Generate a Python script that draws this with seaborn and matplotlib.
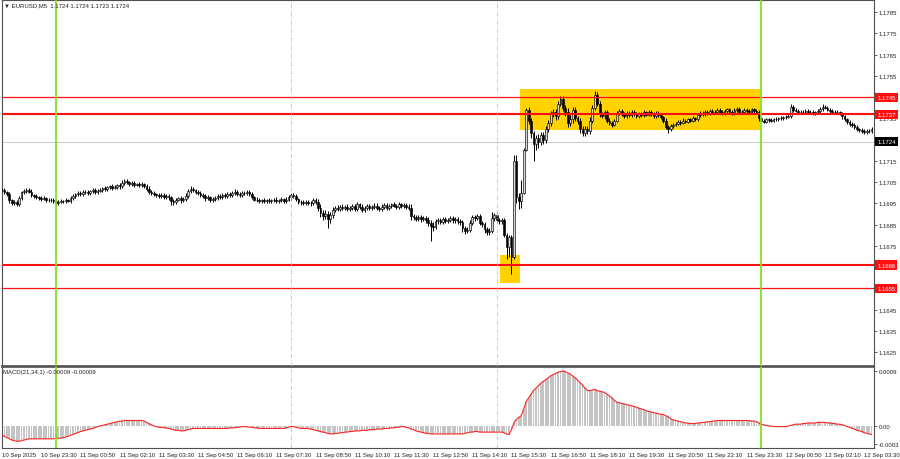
import numpy as np
import matplotlib
matplotlib.use("Agg")
import matplotlib.pyplot as plt
import seaborn as sns
from matplotlib.patches import Rectangle

sns.set_style("white")
plt.rcParams['font.family'] = ['Liberation Sans', 'DejaVu Sans']

# EURUSD M5, prices stored as points above 1.16000 (1 point = 0.00001)
base_price = 1.16
first_open = 1010
close_pts = [
    1012, 1003, 992, 965, 952, 958, 948, 975, 1002, 1010,
    1015, 1006, 990, 984, 980, 976, 972, 975, 968, 965,
    967, 960, 950, 958, 962, 960, 966, 963, 975, 985,
    992, 1000, 995, 1005, 1002, 998, 1008, 1012, 1005, 1010,
    1015, 1022, 1018, 1025, 1030, 1024, 1028, 1035, 1030, 1045,
    1055, 1050, 1042, 1045, 1038, 1040, 1036, 1040, 1032, 1020,
    1005, 998, 992, 990, 985, 990, 982, 986, 978, 960,
    955, 968, 975, 965, 972, 985, 1010, 1020, 1012, 1005,
    998, 990, 985, 975, 978, 965, 970, 975, 985, 980,
    990, 985, 995, 990, 998, 1005, 995, 990, 998, 1000,
    1005, 995, 980, 968, 965, 962, 965, 963, 966, 962,
    965, 968, 962, 966, 970, 963, 968, 978, 990, 985,
    970, 958, 955, 952, 958, 954, 950, 965, 955, 930,
    905, 890, 900, 875, 895, 920, 930, 925, 935, 928,
    935, 925, 930, 938, 925, 945, 935, 920, 930, 938,
    928, 935, 940, 930, 925, 935, 942, 930, 938, 945,
    940, 935, 945, 938, 942, 935, 930, 890, 885, 878,
    885, 875, 880, 872, 860, 845, 840, 865, 870, 862,
    875, 868, 872, 880, 870, 875, 866, 862, 835, 822,
    825, 860, 885, 880, 890, 860, 852, 830, 815, 822,
    880, 895, 870, 865, 872, 800, 745, 790, 700, 1150,
    980, 960, 1000, 1200, 1390, 1340, 1280, 1230, 1260, 1240,
    1270, 1250, 1300, 1330, 1370, 1380, 1360, 1420, 1440, 1400,
    1380, 1330, 1345, 1390, 1350, 1340, 1300, 1280, 1300, 1290,
    1340, 1400, 1460, 1420, 1370, 1360, 1380, 1340, 1330, 1320,
    1340, 1375, 1385, 1370, 1360, 1375, 1365, 1380, 1370, 1360,
    1372, 1365, 1378, 1368, 1380, 1370, 1362, 1375, 1365, 1355,
    1340, 1310, 1300, 1315, 1320, 1325, 1335, 1330, 1340, 1335,
    1345, 1340, 1350, 1348, 1365, 1375, 1370, 1380, 1372, 1385,
    1378, 1382, 1390, 1380, 1375, 1385, 1392, 1380, 1375, 1388,
    1395, 1382, 1378, 1390, 1385, 1380, 1392, 1385, 1378, 1350,
    1340, 1335, 1345, 1342, 1340, 1345, 1348, 1350, 1352, 1355,
    1358, 1362, 1405, 1390, 1385, 1380, 1382, 1378, 1385, 1380,
    1382, 1375, 1380, 1385, 1395, 1405, 1400, 1390, 1385, 1380,
    1382, 1378, 1372, 1360, 1345, 1335, 1325, 1320, 1310, 1300,
    1295, 1290, 1285, 1292, 1290, 1300,
]
# wick length above / below the body, in points
wick_up = [
    9, 10, 7, 12, 8, 7, 10, 11, 8, 10,
    7, 9, 10, 6, 9, 7, 10, 9, 6, 8,
    9, 7, 12, 9, 7, 6, 9, 7, 10, 9,
    7, 10, 9, 7, 9, 10, 7, 9, 10, 7,
    9, 7, 10, 9, 7, 10, 9, 7, 9, 14,
    10, 9, 7, 10, 9, 7, 9, 10, 7, 9,
    10, 7, 9, 7, 10, 9, 7, 9, 10, 9,
    10, 9, 7, 10, 9, 12, 10, 11, 9, 7,
    9, 10, 7, 9, 10, 7, 9, 10, 7, 9,
    10, 9, 7, 10, 9, 11, 7, 9, 10, 9,
    10, 7, 9, 7, 10, 9, 7, 9, 7, 10,
    7, 9, 10, 7, 9, 7, 10, 12, 10, 9,
    9, 7, 10, 9, 7, 10, 9, 12, 9, 14,
    16, 14, 19, 16, 14, 12, 10, 11, 9, 10,
    9, 12, 10, 9, 11, 10, 9, 12, 10, 9,
    11, 9, 10, 12, 9, 10, 11, 9, 10, 9,
    10, 9, 11, 9, 10, 12, 14, 16, 10, 12,
    10, 12, 9, 10, 12, 14, 16, 12, 10, 11,
    10, 9, 11, 10, 9, 12, 10, 9, 11, 10,
    12, 14, 10, 11, 12, 10, 9, 11, 10, 12,
    30, 12, 14, 12, 11, 10, 10, 10, 10, 30,
    30, 20, 60, 10, 10, 15, 10, 12, 10, 15,
    14, 17, 12, 14, 17, 12, 14, 14, 14, 17,
    14, 17, 20, 12, 14, 12, 10, 12, 14, 12,
    15, 14, 17, 12, 10, 12, 10, 9, 10, 9,
    9, 11, 8, 9, 10, 8, 9, 11, 8, 9,
    8, 9, 10, 8, 9, 8, 10, 9, 8, 9,
    8, 11, 9, 10, 8, 9, 8, 9, 10, 8,
    9, 8, 9, 8, 10, 9, 8, 10, 9, 8,
    9, 8, 9, 8, 9, 10, 8, 9, 8, 9,
    8, 9, 8, 10, 8, 9, 8, 9, 8, 11,
    8, 7, 9, 7, 8, 7, 8, 7, 9, 8,
    8, 9, 13, 8, 9, 7, 8, 9, 8, 7,
    8, 9, 7, 8, 9, 11, 9, 8, 7, 9,
    7, 8, 7, 9, 8, 7, 9, 8, 7, 8,
    7, 9, 8, 7, 9, 8,
]
wick_dn = [
    8, 10, 9, 12, 11, 9, 12, 10, 8, 9,
    9, 8, 10, 9, 8, 10, 9, 8, 10, 9,
    8, 10, 13, 9, 8, 10, 9, 8, 9, 10,
    9, 8, 10, 9, 8, 9, 10, 8, 9, 10,
    8, 9, 10, 8, 9, 10, 8, 9, 10, 9,
    9, 10, 8, 9, 10, 8, 9, 10, 9, 10,
    9, 10, 8, 9, 10, 8, 10, 9, 10, 18,
    12, 10, 9, 11, 10, 9, 10, 9, 8, 10,
    10, 9, 11, 12, 9, 10, 9, 8, 10, 9,
    9, 10, 8, 9, 10, 9, 8, 10, 9, 8,
    9, 10, 11, 9, 10, 8, 9, 10, 9, 8,
    9, 8, 10, 9, 8, 10, 9, 8, 10, 9,
    10, 9, 11, 10, 9, 10, 11, 9, 10, 16,
    19, 16, 14, 40, 16, 12, 10, 11, 9, 10,
    10, 9, 11, 10, 12, 9, 10, 11, 12, 9,
    10, 11, 9, 10, 12, 9, 10, 11, 9, 10,
    9, 10, 9, 11, 10, 12, 10, 18, 12, 10,
    11, 12, 10, 12, 14, 70, 18, 12, 11, 10,
    10, 11, 9, 10, 12, 10, 11, 12, 18, 14,
    12, 10, 11, 12, 10, 12, 14, 18, 16, 12,
    12, 14, 12, 11, 12, 10, 55, 45, 81, 10,
    30, 35, 30, 5, 5, 15, 20, 80, 30, 30,
    17, 20, 14, 12, 17, 12, 17, 12, 14, 17,
    17, 20, 14, 17, 12, 17, 17, 15, 12, 14,
    12, 14, 12, 14, 12, 10, 12, 10, 9, 10,
    8, 9, 8, 10, 8, 9, 8, 8, 10, 8,
    8, 8, 9, 8, 8, 9, 8, 8, 8, 9,
    10, 12, 17, 10, 9, 8, 8, 9, 8, 8,
    8, 8, 9, 8, 8, 8, 9, 8, 8, 8,
    8, 8, 8, 9, 8, 8, 8, 8, 9, 8,
    8, 8, 8, 8, 9, 8, 8, 8, 9, 12,
    9, 8, 7, 9, 8, 7, 8, 9, 7, 8,
    8, 7, 9, 8, 7, 9, 8, 7, 8, 9,
    7, 8, 9, 7, 8, 9, 8, 7, 9, 8,
    8, 9, 8, 11, 9, 10, 9, 11, 9, 10,
    9, 8, 10, 9, 8, 9,
]
# MACD(21,34,1) main value in units of 0.00001
macd_vals = [
    -15, -17, -19, -21, -23, -24, -25, -25, -24, -23,
    -22, -21, -21, -21, -21, -21, -21, -21, -21, -21,
    -21, -21, -20, -20, -20, -19, -18, -17, -15, -14,
    -12, -11, -9, -8, -7, -6, -5, -4, -3, -1,
    0, 1, 2, 3, 4, 5, 6, 7, 8, 8,
    9, 9, 9, 9, 9, 9, 9, 9, 8, 6,
    4, 2, 0, -1, -2, -2, -3, -3, -4, -5,
    -6, -7, -7, -8, -8, -7, -6, -5, -4, -4,
    -4, -4, -4, -4, -4, -4, -4, -4, -4, -4,
    -4, -4, -4, -3, -3, -3, -2, -2, -1, -1,
    -1, -2, -2, -3, -3, -4, -4, -4, -4, -4,
    -4, -4, -4, -4, -4, -4, -3, -2, -1, -1,
    -2, -3, -4, -4, -4, -4, -5, -6, -7, -8,
    -9, -10, -11, -12, -13, -13, -12, -12, -11, -11,
    -10, -10, -9, -9, -8, -8, -8, -7, -7, -7,
    -6, -6, -6, -5, -5, -5, -4, -4, -4, -3,
    -3, -2, -2, -1, -1, -2, -3, -5, -6, -8,
    -9, -10, -11, -12, -12, -13, -13, -13, -13, -13,
    -13, -13, -13, -13, -13, -13, -13, -13, -13, -12,
    -11, -10, -10, -9, -9, -10, -10, -10, -10, -10,
    -10, -10, -10, -10, -10, -11, -13, -14, -6, 5,
    11, 14, 17, 28, 40, 46, 52, 58, 62, 66,
    70, 73, 76, 79, 82, 84, 86, 88, 89, 90,
    89, 87, 85, 82, 79, 75, 71, 67, 62, 58,
    58, 59, 60, 58, 57, 56, 55, 52, 49, 46,
    42, 39, 38, 37, 36, 35, 34, 33, 32, 31,
    29, 28, 27, 25, 24, 23, 22, 21, 20, 19,
    19, 17, 15, 12, 10, 9, 8, 7, 6, 5,
    5, 4, 4, 4, 5, 5, 6, 6, 7, 7,
    8, 8, 9, 9, 9, 9, 9, 9, 9, 9,
    9, 9, 9, 9, 9, 9, 8, 8, 7, 5,
    3, 2, 1, 0, 0, -1, -1, -1, -1, -1,
    -1, 0, 1, 2, 3, 3, 3, 4, 4, 5,
    5, 5, 5, 6, 6, 6, 6, 5, 5, 4,
    4, 3, 3, 2, 1, -1, -2, -4, -5, -7,
    -8, -9, -11, -12, -13, -14,
]

time_labels = [
    "10 Sep 2025", "10 Sep 23:30", "11 Sep 00:50", "11 Sep 02:10", "11 Sep 03:30",
    "11 Sep 04:50", "11 Sep 06:10", "11 Sep 07:30", "11 Sep 08:50", "11 Sep 10:10",
    "11 Sep 11:30", "11 Sep 12:50", "11 Sep 14:10", "11 Sep 15:30", "11 Sep 16:50",
    "11 Sep 18:10", "11 Sep 19:30", "11 Sep 20:50", "11 Sep 22:10", "11 Sep 23:30",
    "12 Sep 00:50", "12 Sep 02:10", "12 Sep 03:30",
]
bars_per_label = 16

price_ticks = [1.1625, 1.1635, 1.1645, 1.1655, 1.1665, 1.1675, 1.1685, 1.1695,
               1.1705, 1.1715, 1.1725, 1.1735, 1.1745, 1.1755, 1.1765, 1.1775, 1.1785]
hidden_ticks = [1.1655, 1.1665, 1.1725, 1.1745]   # fully covered by price tags

levels = [1.1745, 1.1737, 1.1666, 1.1655]
level_widths = [0.9, 1.5, 1.5, 0.9]
bid_price = 1.1724
day_lines = [22, 310]          # bar index of day start
session_lines = [118, 202]
boxes = [(203.2, 211.4, 1.16575, 1.16705), (211.4, 309.4, 1.17295, 1.17488)]

n = min(len(close_pts), len(wick_up), len(wick_dn), len(macd_vals))
c = base_price + np.array(close_pts[:n]) / 1e5
o = np.concatenate([[base_price + first_open / 1e5], c[:-1]])
hi = np.maximum(o, c) + np.array(wick_up[:n]) / 1e5
lo = np.minimum(o, c) - np.array(wick_dn[:n]) / 1e5
macd = np.array(macd_vals[:n]) / 1e5
x = np.arange(n)

W, H = 900, 460
FS = 4.3
fig = plt.figure(figsize=(9, 4.6), dpi=100)
ax = fig.add_axes([2 / W, 1 - 367 / H, 872 / W, 366 / H])
ax2 = fig.add_axes([2 / W, 1 - 449 / H, 872 / W, 81 / H])

# --- price panel
for x0, x1, y0, y1 in boxes:
    ax.add_patch(Rectangle((x0, y0), x1 - x0, y1 - y0, facecolor="#ffd200",
                           edgecolor="none", zorder=1))
ax.axhline(bid_price, color="#c8c8c8", lw=0.7, zorder=2)

up = c >= o
ax.vlines(x, lo, hi, color="black", lw=0.7, zorder=3)
ax.bar(x[up], np.maximum(c - o, 1e-6)[up], bottom=o[up], width=0.72,
       color="#d8d8d8", edgecolor="black", linewidth=0.45, zorder=4)
ax.bar(x[~up], (o - c)[~up], bottom=c[~up], width=0.72,
       color="black", edgecolor="black", linewidth=0.45, zorder=4)

for lvl, lw in zip(levels, level_widths):
    ax.axhline(lvl, color="#ff1010", lw=lw, zorder=5)

# --- MACD panel
sns.barplot(x=x, y=macd, ax=ax2, native_scale=True, color="#c4c4c4",
            width=0.72, linewidth=0, saturation=1, errorbar=None, zorder=2)
sns.lineplot(x=x, y=macd, ax=ax2, color="#ff2020", lw=0.8, zorder=3)

for a in (ax, ax2):
    for xv in day_lines:
        a.axvline(xv, color="#86e01c", lw=1.3, zorder=6)
    for xv in session_lines:
        a.axvline(xv, color="#a9dd6a", lw=0.6, ls=(0, (5, 2, 1, 2)), zorder=6)
    a.set_xlim(0, 356)
    a.yaxis.tick_right()
    a.tick_params(axis="y", direction="out", length=2, width=0.5,
                  labelsize=FS, pad=1.5, colors="#222222")
    for s in a.spines.values():
        s.set_color("#505050")
        s.set_linewidth(0.8)
    a.grid(False)

ax.set_ylim(1.16185, 1.17907)
ax.set_yticks(price_ticks)
ax.set_yticklabels(["" if t in hidden_ticks else f"{t:.4f}" for t in price_ticks])
ax.set_xticks([])
ax.spines["bottom"].set_linewidth(1.2)

ax2.set_ylim(-0.00036, 0.000966)
ax2.set_yticks([0.0009, 0.0, -0.0003])
ax2.set_yticklabels(["0.0009", "0.00", "-0.0003"])
ax2.set_ylabel("")
ax2.spines["top"].set_linewidth(1.2)
ax2.set_xticks(np.arange(len(time_labels)) * bars_per_label)
ax2.set_xticklabels(time_labels)
ax2.tick_params(axis="x", direction="out", length=2, width=0.5, labelsize=FS,
                pad=1, colors="#222222")
for lbl in ax2.get_xticklabels():
    lbl.set_horizontalalignment("left")

# right-side price tags
tags = [(1.1745, "#ff1010"), (1.1737, "#ff1010"), (1.1666, "#ff1010"),
        (1.1655, "#ff1010"), (bid_price, "black")]
for val, col in tags:
    ax.text(1.0035, val, f"{val:.4f}", transform=ax.get_yaxis_transform(),
            ha="left", va="center", fontsize=FS, color="white", clip_on=False,
            bbox=dict(boxstyle="square,pad=0.35", fc=col, ec="none"), zorder=10)

fig.text(4 / W, 1 - 6 / H, "\u25bc EURUSD,M5  1.1724 1.1724 1.1723 1.1724",
         fontsize=FS, va="center", ha="left", color="#202020")
fig.text(3 / W, 1 - 373 / H, "MACD(21,34,1) -0.00009 -0.00009",
         fontsize=FS, va="center", ha="left", color="#202020")

fig.savefig("out.png", dpi=100)
